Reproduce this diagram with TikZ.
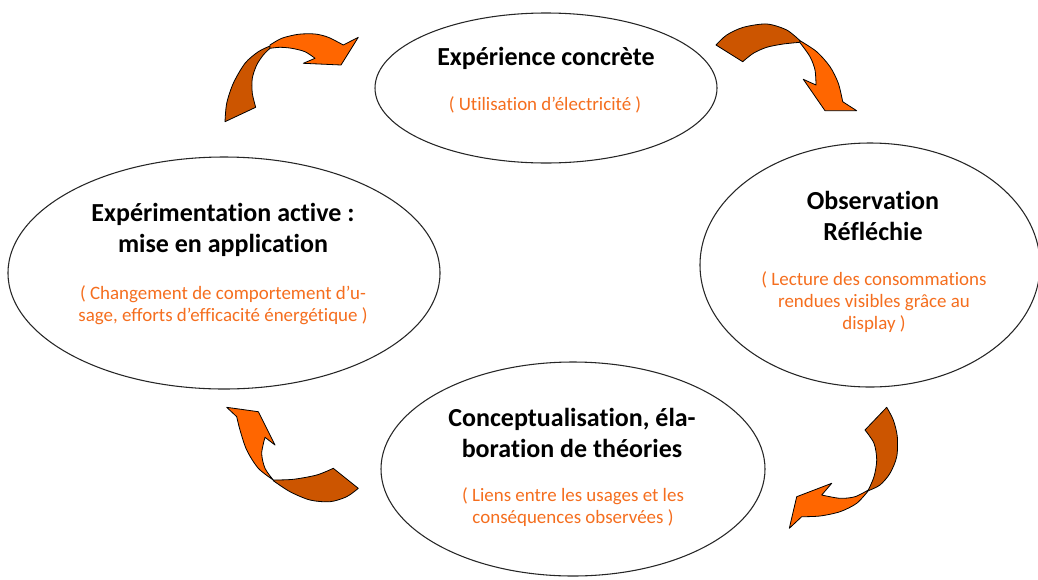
\documentclass[tikz,border=0pt]{standalone}
\usepackage{fontspec}
\setmainfont{Carlito}[Ligatures=NoCommon]
\usetikzlibrary{shapes.geometric}
\definecolor{arrdark}{RGB}{204,85,0}
\definecolor{arrlight}{RGB}{255,102,0}
\definecolor{txtorange}{RGB}{245,110,30}
\begin{document}
\begin{tikzpicture}[x=0.75pt,y=-0.75pt,
  bubble/.style={ellipse, draw=black!85, line width=0.8pt, fill=white, inner sep=0pt},
  title/.style={font=\fontsize{19.5}{23.5}\selectfont\bfseries, align=center, inner sep=0pt},
  sub/.style={font=\fontsize{14.2}{16.5}\selectfont, text=txtorange, align=center, inner sep=0pt},
  darkpart/.style={fill=arrdark, draw=black, line width=0.6pt, line join=round},
  lightpart/.style={fill=arrlight, draw=black, line width=0.6pt, line join=round}]
\useasboundingbox (0,0) rectangle (1038,579);

% ellipses
\node[bubble, minimum width=256.5pt, minimum height=112.5pt] (e1) at (546,88) {};
\node[bubble, minimum width=255pt, minimum height=183pt] (e2) at (870,265) {};
\node[bubble, minimum width=324pt, minimum height=174pt] (e4) at (224,273) {};
\node[bubble, minimum width=288pt, minimum height=160.5pt] (e3) at (573,469) {};

% texts
\node[title] (t1) at (546,58) {Expérience concrète};
\node[sub] (s1) at (545,105) {( Utilisation d’électricité )};
\node[title] (t2) at (873,216) {Observation\\Réfléchie};
\node[sub] (s2) at (874,302.5) {( Lecture des consommations\\rendues visibles grâce au\\display )};
\node[title] (t4) at (223,230) {Expérimentation active :\\mise en application};
\node[sub] (s4) at (223,305) {( Changement de comportement d’u-\\sage, efforts d’efficacité énergétique )};
\node[title] (t3) at (572,433) {Conceptualisation, éla-\\boration de théories};
\node[sub] (s3) at (573,507.5) {( Liens entre les usages et les\\conséquences observées )};

% arrow 1 (top-left)
\filldraw[darkpart] plot[smooth] coordinates {(225,121.7) (226.7,103.3) (233.3,83.3) (245,63.3) (258.3,51.7) (270,46)}
  -- plot[smooth] coordinates {(270,48.3) (263.3,55) (256.7,65) (252.3,78.3) (252.3,93.3) (255.7,107.3)} -- cycle;
\filldraw[lightpart] plot[smooth] coordinates {(270,45) (281.7,38.3) (298.3,34.3) (315,34) (328.3,37.3) (343.3,45)}
  -- (358.3,37.3) -- (341,65) -- (303.3,63.3)
  -- plot[smooth] coordinates {(315,58.3) (305,51.7) (291.7,48.3) (280,47.3) (270,48.3)} -- cycle;

% arrow 2 (top-right)
\filldraw[darkpart] plot[smooth] coordinates {(716,45) (726.7,35) (743.3,27.3) (766.7,24) (786.7,30) (800,40.7)}
  -- plot[smooth] coordinates {(800,42.3) (783.3,44) (766.7,47.3) (753.3,53.3) (742.7,61.7)} -- cycle;
\filldraw[lightpart] plot[smooth] coordinates {(800,40.7) (816.7,51.7) (830,66.7) (838.3,83.3) (842.7,101.7)}
  -- (856.7,110.7) -- (825,110.7) -- (803.3,79.3)
  -- plot[smooth] coordinates {(816,85) (815,70) (810,56.7) (800,42.7)} -- cycle;

% arrow 3 (bottom-right)
\filldraw[darkpart] plot[smooth] coordinates {(886.7,407.3) (893.3,420) (897.3,436.7) (896.7,456.7) (890,473.3) (880,485) (868.3,490.7)}
  -- plot[smooth] coordinates {(868.3,490) (874,476.7) (876.7,460) (874,443.3) (865,430)} -- cycle;
\filldraw[lightpart] plot[smooth] coordinates {(868.3,490.7) (856.7,503.3) (840,511.7) (820,516) (801.7,516.7)}
  -- (789.3,528.3) -- (796.7,496.7) -- (831.7,483.3)
  -- plot[smooth] coordinates {(821.7,495) (840,498.3) (855,496.7) (868.3,490)} -- cycle;

% arrow 4 (bottom-left)
\filldraw[lightpart] (226.7,407.3) -- (258.3,411.7) -- (275,445)
  -- plot[smooth] coordinates {(265,437.3) (261.7,453.3) (265,468.3) (273.3,480)}
  -- plot[smooth] coordinates {(273.3,480) (258.3,468.3) (246.7,450) (240,430) (236.7,416.7)} -- cycle;
\filldraw[darkpart] plot[smooth] coordinates {(273.3,480) (293.3,479.3) (316.7,475) (333.3,468.3)}
  -- plot[smooth] coordinates {(358.3,488.3) (346.7,496.7) (330,501.7) (310,500) (290,491.7) (273.3,480.7)} -- cycle;
\end{tikzpicture}
\end{document}
